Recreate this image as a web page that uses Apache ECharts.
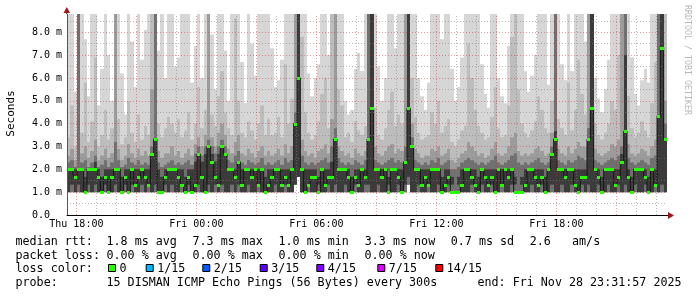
<!DOCTYPE html>
<html><head><meta charset="utf-8">
<script src="https://cdn.jsdelivr.net/npm/echarts@6/dist/echarts.min.js"></script>
<style>html,body{margin:0;padding:0;background:#fff}#c{width:697px;height:297px}</style>
</head><body><div id="c"></div>
<script>
// ---- data (ms), one value per 10-minute step, Thu 17:31:57 .. Fri 23:31:57 ----
const median = [
2.0,2.0,1.67,2.0,2.0,1.0,2.0,2.0,2.0,1.67,
1.0,1.67,1.0,1.67,2.0,2.0,1.0,1.67,1.0,2.0,
1.33,1.67,2.0,1.67,1.33,2.67,3.33,1.0,1.0,1.67,
2.0,2.0,2.0,1.67,1.33,1.0,1.67,1.0,1.33,2.67,
1.67,1.0,3.0,2.33,1.67,1.33,3.0,2.67,2.0,2.0,
1.67,2.33,1.33,2.0,2.0,1.67,2.0,1.33,2.0,1.0,
1.33,1.67,2.0,2.0,1.33,1.67,1.33,2.0,4.0,6.0,
2.0,1.0,1.33,1.67,1.67,1.0,2.0,1.33,1.67,1.67,
3.33,2.0,2.0,2.0,1.67,1.0,1.67,1.33,2.0,1.67,
3.33,4.67,2.0,2.0,1.67,2.0,1.0,2.0,2.0,1.67,
1.0,2.33,4.67,3.0,2.0,2.0,1.33,1.67,1.33,2.0,
2.0,2.0,1.0,1.33,1.67,1.0,1.0,1.0,1.33,2.0,
2.0,1.67,1.33,1.0,2.0,1.67,1.33,1.67,1.0,2.0,
1.33,2.0,1.67,2.0,1.0,1.0,1.0,1.33,2.0,2.0,
1.67,1.33,1.67,1.0,2.0,2.67,3.33,2.0,2.0,1.67,
2.0,2.0,1.33,1.0,1.67,1.67,3.33,4.67,2.0,1.67,
1.0,2.0,2.0,2.0,1.33,1.67,2.33,3.67,1.67,1.0,
2.0,2.0,2.0,1.67,1.0,2.0,1.33,4.33,7.33,3.33];
const pMin = [
1,1,1,1,1,1,1,1,1,1, 1,1,1,1,1,1,1,1,1,1, 1,1,1,1,1,1,1,1,1,1,
1,1,1,1,1,1,1,1,1,1, 1,1,1,1,1,1,1,1,1,1, 1,1,1,1,1,1,1,1,1,1,
1,1,1,1,1,1,1,1,1.33,1.67, 1,1,1,1,1,1,1,1,1,1, 1,1,1,1,1,1,1,1,1,1,
1,1,1,1,1,1,1,1,1,1, 1,1,1.33,1,1,1,1,1,1,1, 1,1,1,1,1,1,1,1,1,1,
1,1,1,1,1,1,1,1,1,1, 1,1,1,1,1,1,1,1,1,1, 1,1,1,1,1,1,1,1,1,1,
1,1,1,1,1,1,1,1,1,1, 1,1,1,1,1,1,1,1,1,1, 1,1,1,1,1,1,1,1,1,1];
const pDarkLo = [
1.0,1.33,1.0,1.33,1.0,1.0,1.33,1.0,1.33,1.0,
1.0,1.33,1.0,1.0,1.33,1.0,1.0,1.33,1.0,1.33,
1.0,1.0,1.33,1.0,1.33,1.0,1.33,1.0,1.0,1.33,
1.0,1.33,1.0,1.0,1.33,1.0,1.33,1.0,1.0,1.33,
1.0,1.0,1.33,1.0,1.33,1.0,1.33,1.0,1.0,1.33,
1.0,1.33,1.0,1.0,1.33,1.0,1.0,1.33,1.0,1.0,
1.0,1.0,1.33,1.0,1.0,1.33,1.0,1.0,1.33,1.67,
1.0,1.0,1.33,1.0,1.0,1.33,1.0,1.0,1.33,1.0,
1.33,1.0,1.0,1.33,1.0,1.0,1.33,1.0,1.0,1.33,
1.33,1.0,1.0,1.33,1.0,1.0,1.33,1.0,1.0,1.33,
1.0,1.33,1.67,1.0,1.0,1.33,1.0,1.0,1.33,1.0,
1.0,1.33,1.0,1.0,1.33,1.33,1.67,1.33,1.0,1.0,
1.0,1.33,1.0,1.0,1.33,1.0,1.0,1.33,1.0,1.0,
1.33,1.0,1.0,1.33,1.33,1.67,1.33,1.0,1.0,1.33,
1.0,1.0,1.33,1.0,1.0,1.33,1.0,1.0,1.33,1.0,
1.0,1.33,1.0,1.0,1.33,1.0,1.33,1.0,1.0,1.33,
1.0,1.0,1.33,1.0,1.0,1.33,1.0,1.33,1.0,1.0,
1.33,1.0,1.0,1.33,1.0,1.0,1.33,1.0,1.33,1.0];
const pDarkHi = [
2.0,2.0,2.0,2.0,2.0,1.67,2.0,2.0,2.33,2.0,
1.67,2.0,2.0,2.0,2.0,2.0,1.67,2.0,2.0,2.0,
2.0,2.0,2.0,2.0,2.0,2.67,3.33,2.0,1.67,2.0,
2.0,2.0,2.0,2.0,2.0,1.67,2.0,2.0,2.33,2.67,
2.33,2.67,3.0,2.67,2.33,2.67,3.0,2.67,2.0,2.0,
2.0,2.33,2.0,2.0,2.0,2.0,2.0,2.0,2.0,1.67,
2.0,2.0,2.0,2.0,2.0,2.0,2.0,2.0,4.0,8.8,
2.0,2.0,2.0,2.0,2.0,1.67,2.0,2.0,2.0,2.33,
3.33,2.0,2.0,2.0,2.0,1.67,2.0,2.0,2.0,2.0,
3.33,8.8,2.0,2.0,2.0,2.0,1.67,2.0,2.0,2.0,
2.0,2.33,8.8,3.0,2.0,2.0,2.0,2.0,2.0,2.0,
2.0,2.0,1.67,2.0,2.0,1.67,1.67,1.67,2.0,2.0,
2.0,2.0,2.0,1.67,2.0,2.0,2.0,2.0,2.0,2.0,
2.0,2.0,2.0,2.0,1.67,1.67,1.67,2.0,2.0,2.0,
2.0,2.0,2.0,1.67,2.0,2.67,3.67,2.0,2.0,2.0,
2.0,2.0,2.0,2.0,2.0,2.0,3.33,8.8,2.0,2.0,
1.67,2.0,2.0,2.0,2.0,2.0,2.67,7.0,2.0,1.67,
2.0,2.0,2.0,2.0,1.67,2.0,2.0,4.33,8.8,3.33];
const pMid = [
2.3,2.4,2.1,8.8,2.3,2.4,2.1,2.3,2.6,2.1,
2.2,2.4,2.1,2.3,3.2,2.4,2.1,2.2,2.5,2.3,
2.2,2.4,2.2,2.3,2.2,3.0,8.8,2.3,2.1,2.2,
2.3,2.4,2.2,2.3,2.2,2.3,2.4,2.2,2.7,3.0,
2.6,3.0,3.3,3.0,2.7,3.0,3.3,3.0,2.4,2.3,
2.6,2.8,2.3,2.2,2.4,2.3,2.2,2.3,2.5,2.2,
2.3,2.2,2.3,2.4,2.2,2.5,2.3,2.4,4.5,8.8,
2.6,2.3,2.2,2.3,2.2,2.3,2.4,2.5,2.3,3.0,
3.8,2.5,2.3,2.2,2.3,2.2,2.4,2.3,2.2,2.4,
8.8,8.8,2.4,2.3,2.2,2.3,2.4,2.5,2.3,2.4,
2.3,3.0,8.8,3.4,2.4,2.3,2.2,2.3,2.2,2.4,
2.3,2.5,2.2,2.3,2.4,2.0,2.0,2.1,2.3,2.4,
2.5,2.4,2.3,2.2,2.3,2.2,2.3,2.4,2.6,2.3,
2.2,2.3,2.4,2.6,2.7,2.3,2.2,2.3,2.2,2.3,
2.4,2.5,2.3,2.2,2.3,3.0,8.8,2.4,2.3,2.2,
2.4,2.3,2.4,2.6,2.5,2.4,3.8,8.8,2.4,2.3,
2.2,2.3,2.4,2.5,2.4,2.6,3.0,8.8,2.5,2.3,
2.2,2.3,2.4,2.3,2.2,2.5,2.6,8.8,8.8,4.0];
const pLight = [
2.6,2.9,2.4,8.8,2.7,3.0,2.5,2.8,3.3,2.4,
2.6,2.9,2.5,2.7,8.8,2.9,2.4,2.6,3.1,2.7,
2.5,2.9,2.6,2.8,2.6,5.5,8.8,2.8,2.5,2.7,
2.7,3.0,2.6,2.8,2.5,2.7,2.9,2.6,3.1,3.4,
3.0,3.5,8.8,3.4,3.0,3.6,4.0,3.5,2.9,2.7,
3.2,3.5,2.7,2.6,2.9,2.7,2.5,2.8,3.0,2.6,
2.8,2.6,2.7,2.9,2.6,3.1,2.7,3.0,8.8,8.8,
3.3,2.8,2.6,2.7,2.5,2.8,2.9,3.1,2.7,4.2,
8.8,3.0,2.8,2.6,2.7,2.5,2.9,2.7,2.6,2.8,
8.8,8.8,3.0,2.7,2.6,2.8,3.0,3.1,2.7,2.9,
2.8,8.8,8.8,4.0,2.9,2.7,2.5,2.6,2.6,2.9,
2.8,3.0,2.6,2.7,2.9,2.4,2.3,2.5,2.7,2.8,
3.2,3.0,2.8,2.6,2.7,2.5,2.6,2.9,3.2,2.7,
2.6,2.7,3.0,3.4,3.6,2.8,2.6,2.7,2.6,2.7,
2.9,3.0,2.8,2.6,2.7,3.6,8.8,2.9,2.7,2.6,
3.0,2.7,2.9,3.2,3.0,3.0,8.8,8.8,2.9,2.7,
2.6,2.7,2.8,3.1,3.0,3.3,8.8,8.8,3.1,2.7,
2.6,2.7,2.9,2.8,2.6,3.0,3.3,8.8,8.8,5.0];
const pPale = [
3.4,4.8,3.0,8.8,3.6,5.8,3.2,4.1,6.9,3.0,
3.5,4.6,3.3,3.8,8.8,4.2,3.1,3.4,5.0,3.6,
3.2,4.4,3.3,3.9,3.5,8.8,8.8,4.0,3.4,3.8,
4.3,4.0,3.6,4.2,3.4,3.7,4.5,3.3,4.0,5.6,
3.8,4.6,8.8,4.4,3.9,5.2,6.3,4.5,3.8,3.5,
8.6,5.0,3.6,3.4,4.1,3.7,3.3,4.0,4.8,3.5,
4.2,3.5,3.6,4.3,3.4,6.6,4.0,5.1,8.8,8.8,
7.8,4.5,3.6,3.3,3.5,4.1,5.3,6.0,3.8,8.8,
8.8,5.5,4.8,3.4,3.6,3.2,4.1,3.7,3.5,3.9,
8.8,8.8,4.7,3.5,3.3,3.8,4.6,5.4,3.9,4.4,
4.0,8.8,8.8,6.0,4.3,3.6,3.3,3.4,3.5,4.5,
4.0,5.0,3.6,3.9,4.2,3.2,3.0,3.3,3.7,3.9,
7.5,6.0,4.6,3.9,3.6,3.3,3.4,4.3,5.6,3.8,
3.4,3.5,4.8,7.8,8.8,5.5,4.0,3.6,3.4,3.7,
4.1,5.2,4.6,3.8,3.6,5.0,8.8,4.2,3.8,3.5,
5.8,3.7,4.6,6.8,5.3,4.4,8.8,8.8,4.0,3.5,
3.3,3.6,4.0,5.0,4.6,7.0,8.8,8.8,5.2,3.8,
3.4,3.6,4.1,3.7,3.4,4.9,6.7,8.8,8.8,8.8];
const pMax = [
8.8,8.8,5.4,8.8,8.8,7.7,5.2,8.8,8.8,4.8,
6.4,8.8,7.0,5.0,8.8,8.8,6.2,4.4,8.8,7.6,
5.6,8.8,6.8,8.1,8.8,8.8,8.8,7.2,8.8,6.0,
8.8,8.8,6.5,6.9,8.8,8.8,8.8,5.8,7.4,8.8,
6.0,8.8,8.8,7.9,5.5,8.8,8.8,7.2,5.0,8.8,
8.8,8.8,6.7,4.9,8.8,7.5,6.1,8.8,8.8,8.8,
8.8,7.3,5.6,5.9,6.8,8.8,8.8,8.8,8.8,8.8,
8.8,8.8,6.2,5.2,6.0,6.6,8.8,8.8,7.0,8.8,
8.8,8.8,8.8,5.0,4.4,4.6,6.4,7.1,6.3,8.8,
8.8,8.8,8.8,6.5,5.0,6.0,8.8,8.8,7.3,8.8,
8.8,8.8,8.8,8.8,8.8,6.0,5.2,4.6,5.8,8.8,
8.8,8.8,7.7,8.8,8.8,6.4,5.0,5.6,6.9,8.8,
8.8,8.8,8.8,8.8,6.6,5.3,4.7,8.8,8.8,6.0,
5.2,4.9,7.4,8.8,8.8,8.8,8.8,6.3,5.4,6.1,
7.0,8.8,8.8,8.8,5.7,8.8,8.8,8.8,6.6,5.9,
8.8,6.3,8.8,8.8,8.8,7.6,8.8,8.8,6.0,5.1,
4.5,5.5,6.8,8.8,8.8,8.8,8.8,8.8,8.8,6.9,
5.3,4.8,5.9,6.4,5.8,8.8,8.8,8.8,8.8,8.8];

// ---- axes / ticks ----
const yLabelValues = [0,1,2,3,4,5,6,7,8];
const yMinor = [0.5,1.5,2.5,3.5,4.5,5.5,6.5,7.5,8.5];
const yMajor = [1,2,3,4,5,6,7,8];
const xLabelHours = [18,24,30,36,42];                 // hours since Thu 00:00
const xMajorHours = [18,21,24,27,30,33,36,39,42,45];
const xMinorHours = [19,20,22,23,25,26,28,29,31,32,34,35,37,38,40,41,43,44,46,47];
const days = ['Thu','Fri'];

const statLine1 = [['median rtt:',15.5],['1.8 ms avg',106.5],['7.3 ms max',192.5],['1.0 ms min',278.5],['3.3 ms now',364.8],['0.7 ms sd',450.8],['2.6   am/s',529.8]];
const statLine2 = [['packet loss:',15.5],['0.00 % avg',106.5],['0.00 % max',192.5],['0.00 % min',278.5],['0.00 % now',364.5]];
const lossColors = [['0','#26ff00',108.5],['1/15','#00b8ff',146.2],['2/15','#0059ff',202.8],['3/15','#5e00ff',260.2],['4/15','#7e00ff',316.8],['7/15','#dd00ff',377.8],['14/15','#ff0000',435.8]];

const START = 17 + 31/60 + 57/3600, STEP = 1/6, END = START + 30;
const xs = median.map((_, i) => START + (i + 0.5) * STEP);
const MONO = 'DejaVu Sans Mono';

function band(lo, hi, color) {
  return {
    type: 'custom', z: 2, silent: true, clip: true,
    data: lo.map((v, i) => [xs[i], v, hi[i]]),
    encode: { x: 0, y: [1, 2] },
    renderItem(params, api) {
      const x = api.value(0);
      const a = api.coord([x - STEP / 2, api.value(2)]);
      const b = api.coord([x + STEP / 2, api.value(1)]);
      const x0 = Math.round(a[0]), x1 = Math.round(b[0]);
      return { type: 'rect', shape: { x: x0, y: a[1], width: x1 - x0, height: b[1] - a[1] }, style: { fill: color } };
    }
  };
}

const chart = echarts.init(document.getElementById('c'), null, { renderer: 'canvas' });
const g = [];
const txt = (x, y, text, size, extra) => Object.assign({ type: 'text', x, y, silent: true,
  style: { text, fontFamily: MONO, fontSize: size, fill: '#000', align: 'left', verticalAlign: 'middle' } }, extra || {});
statLine1.forEach(([s, x]) => g.push(txt(x, 241.5, s, 11.7)));
statLine2.forEach(([s, x]) => g.push(txt(x, 255.5, s, 11.7)));
g.push(txt(15.5, 269, 'loss color:', 11.7));
lossColors.forEach(([s, c, x]) => {
  g.push({ type: 'rect', silent: true, shape: { x: x, y: 264.5, width: 7, height: 7 }, style: { fill: c, stroke: '#000', lineWidth: 1 } });
  g.push(txt(x + 11, 269, s, 11.7));
});
g.push(txt(15.5, 283, 'probe:', 11.7));
g.push(txt(106.5, 283, '15 DISMAN ICMP Echo Pings (56 Bytes) every 300s', 11.7));
g.push(txt(477.5, 283, 'end: Fri Nov 28 23:31:57 2025', 11.7));
g.push({ type: 'text', x: 11, y: 113.5, rotation: Math.PI / 2, silent: true,
  style: { text: 'Seconds', fontFamily: MONO, fontSize: 11, fill: '#000', align: 'center', verticalAlign: 'middle' } });
g.push({ type: 'text', x: 687.5, y: 60, rotation: -Math.PI / 2, silent: true,
  style: { text: 'RRDTOOL / TOBI OETIKER', fontFamily: MONO, fontSize: 8.3, fill: '#b8b8b8', align: 'center', verticalAlign: 'middle' } });
// axis arrows
g.push({ type: 'line', silent: true, shape: { x1: 66.5, y1: 14, x2: 66.5, y2: 10 }, style: { stroke: '#555', lineWidth: 1 } });
g.push({ type: 'line', silent: true, shape: { x1: 667, y1: 215.5, x2: 669, y2: 215.5 }, style: { stroke: '#000', lineWidth: 1 } });
g.push({ type: 'polygon', silent: true, shape: { points: [[63.5, 13], [70, 13], [66.8, 7]] }, style: { fill: '#a01515' } });
g.push({ type: 'polygon', silent: true, shape: { points: [[668, 212], [668, 219], [674, 215.5]] }, style: { fill: '#a01515' } });

const gridLine = (color, xv, yv) => ({
  type: 'line', data: [], z: 3, silent: true,
  markLine: { silent: true, symbol: ['none', 'none'], animation: false, label: { show: false },
    emphasis: { disabled: true },
    lineStyle: { color, type: [1, 2], width: 1 },
    data: [...xv.map(h => ({ xAxis: h })), ...yv.map(v => ({ yAxis: v }))] }
});

chart.setOption({
  animation: false,
  backgroundColor: '#fff',
  grid: { left: 67, right: 30, top: 14, bottom: 82, containLabel: false },
  xAxis: {
    type: 'value', min: START, max: END, z: 6,
    axisLine: { show: true, lineStyle: { color: '#000', width: 1 } },
    axisTick: { show: false }, splitLine: { show: false },
    axisLabel: { customValues: xLabelHours, margin: 4, fontFamily: MONO, fontSize: 10, color: '#000',
      formatter: h => days[Math.floor(h / 24)] + ' ' + String(Math.round(h) % 24).padStart(2, '0') + ':00' }
  },
  yAxis: {
    type: 'value', min: 0, max: 8.8, z: 6,
    axisLine: { show: true, lineStyle: { color: '#555', width: 1 } },
    axisTick: { show: false }, splitLine: { show: false },
    axisLabel: { customValues: yLabelValues, margin: 5, fontFamily: MONO, fontSize: 10, color: '#000',
      formatter: v => v === 0 ? '0.0  ' : v.toFixed(1) + ' m' }
  },
  graphic: g,
  series: [
    band(pMin, pMax, '#d6d6d6'),
    band(pMin, pPale, '#bdbdbd'),
    band(pMin, pLight, '#9c9c9c'),
    band(pMin, pMid, '#707070'),
    band(pDarkLo, pDarkHi, '#3b3b3b'),
    gridLine('rgba(128,128,128,0.55)', xMinorHours, yMinor),
    gridLine('rgba(205,40,40,0.45)', xMajorHours, yMajor),
    { type: 'line', step: 'middle', z: 4, silent: true, symbol: 'none',
      data: median.map((v, i) => [xs[i], v]), lineStyle: { color: '#161616', width: 1 } },
    { type: 'custom', z: 5, silent: true, clip: true,
      data: median.map((v, i) => [xs[i], v]), encode: { x: 0, y: 1 },
      renderItem(params, api) {
        const x = api.value(0);
        const a = api.coord([x - STEP / 2, api.value(1)]);
        const b = api.coord([x + STEP / 2, api.value(1)]);
        const x0 = Math.round(a[0]), x1 = Math.round(b[0]);
        return { type: 'rect', shape: { x: x0, y: Math.round(a[1]) - 1, width: x1 - x0, height: 3 }, style: { fill: '#26ff00' } };
      } }
  ]
});
</script></body></html>
